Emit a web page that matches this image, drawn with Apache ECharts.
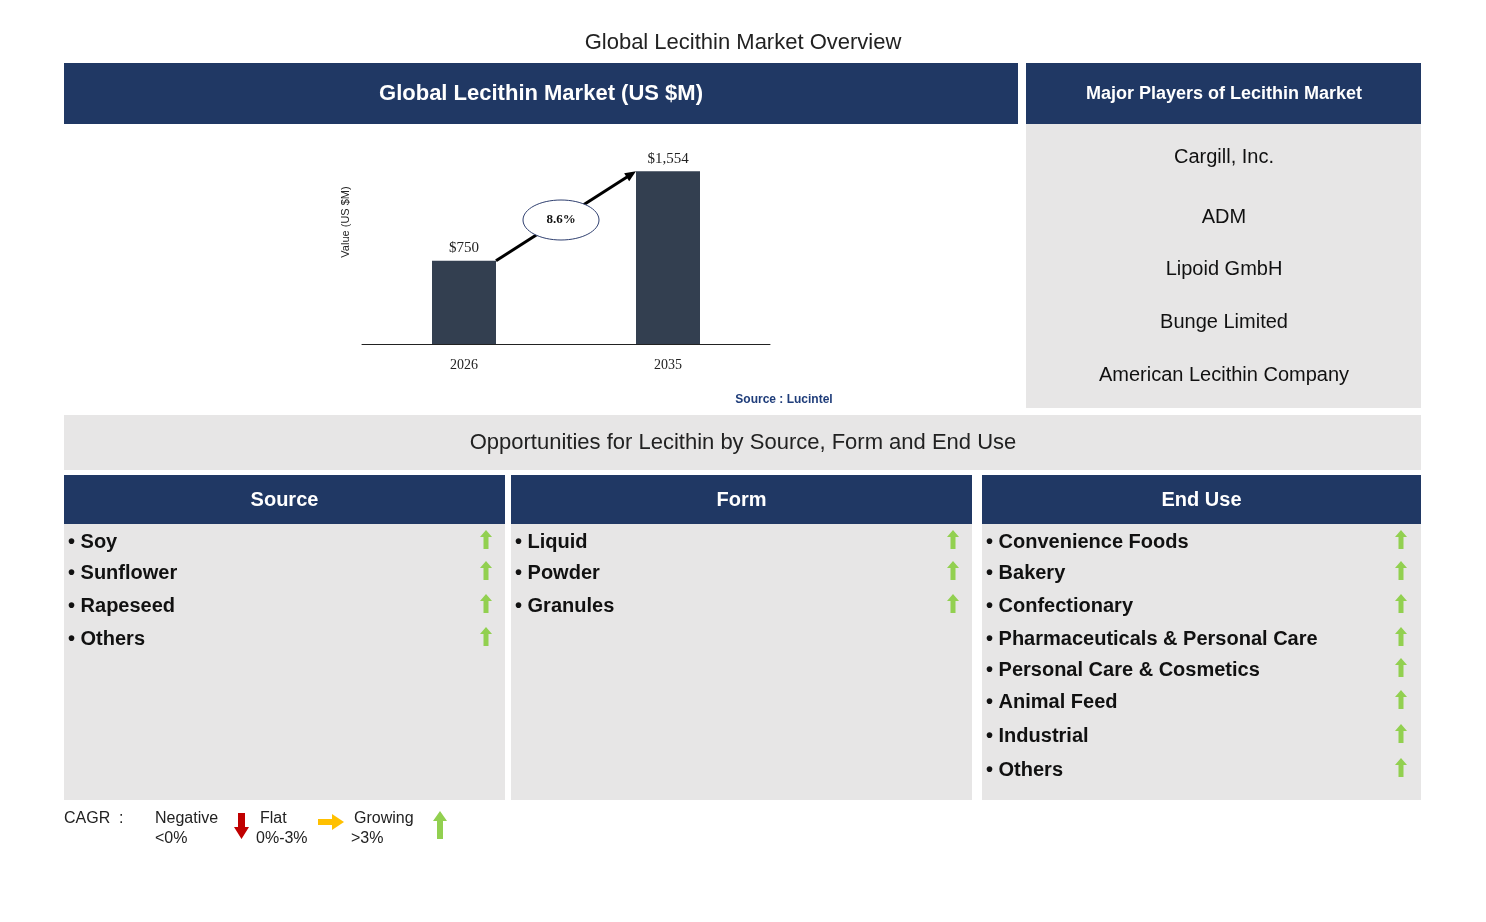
<!DOCTYPE html>
<html><head><meta charset="utf-8">
<script src="https://cdn.jsdelivr.net/npm/echarts@6/dist/echarts.min.js"></script>
<style>html,body{margin:0;padding:0;background:#fff}#c{width:1486px;height:922px}</style>
</head><body><div id="c"></div>
<script>
const years = ['2026','2035'];
const values = [750, 1554];
const cagr = '8.6%';
const players = ['Cargill, Inc.','ADM','Lipoid GmbH','Bunge Limited','American Lecithin Company'];
const sources = ['Soy','Sunflower','Rapeseed','Others'];
const forms = ['Liquid','Powder','Granules'];
const endUses = ['Convenience Foods','Bakery','Confectionary','Pharmaceuticals & Personal Care','Personal Care & Cosmetics','Animal Feed','Industrial','Others'];
const srcY = [542,573,606,639];
const endY = [542,573,606,639,670,702,736,770];

const NAVY = '#203864', GRAY = '#e7e6e6', GREEN = '#92d050', F = 'Liberation Sans, Arial, sans-serif';
const chart = echarts.init(document.getElementById('c'));
const g = [];
function rect(x,y,w,h,fill){g.push({type:'rect',shape:{x,y,width:w,height:h},style:{fill},z:0});}
function text(x,y,t,size,color,align,weight,font){g.push({type:'text',x,y,style:{text:t,fontSize:size,fill:color,align:align||'center',verticalAlign:'middle',fontWeight:weight||'normal',fontFamily:font||F},z:5});}
function up(x,y){g.push({type:'polygon',shape:{points:[[x,y-10],[x+6,y-3],[x+2.5,y-3],[x+2.5,y+9],[x-2.5,y+9],[x-2.5,y-3],[x-6,y-3]]},style:{fill:GREEN},z:5});}

text(743,43,'Global Lecithin Market Overview',22,'#222');
rect(64,63,954,61,NAVY); text(541,94,'Global Lecithin Market (US $M)',22,'#fff','center','bold');
rect(1026,63,395,61,NAVY); text(1224,94,'Major Players of Lecithin Market',18,'#fff','center','bold');
rect(1026,124,395,284,GRAY);
[157,217,269,322,375].forEach((y,i)=>text(1224,y,players[i],20,'#111'));
text(784,400,'Source : Lucintel',12,'#1f3d7a','center','bold');
rect(64,415,1357,55,GRAY); text(743,443,'Opportunities for Lecithin by Source, Form and End Use',22,'#222');
const cols=[[64,441,'Source',sources,srcY,486],[511,461,'Form',forms,srcY,953],[982,439,'End Use',endUses,endY,1401]];
cols.forEach(([x,w,h,items,ys,ax])=>{
  rect(x,475,w,49,NAVY); text(x+w/2,500,h,20,'#fff','center','bold');
  rect(x,524,w,276,GRAY);
  items.forEach((it,i)=>{text(x+4,ys[i],'• '+it,20,'#111','left','bold'); up(ax,ys[i]-2);});
});
text(64,819,'CAGR  :',16,'#222','left');
text(155,819,'Negative',16,'#222','left'); text(155,839,'<0%',16,'#222','left');
g.push({type:'polygon',shape:{points:[[238,813],[245,813],[245,827],[249,827],[241.5,839],[234,827],[238,827]]},style:{fill:'#c00000'},z:5});
text(260,819,'Flat',16,'#222','left'); text(256,839,'0%-3%',16,'#222','left');
g.push({type:'polygon',shape:{points:[[318,819],[332,819],[332,814],[344,822],[332,830],[332,825],[318,825]]},style:{fill:'#ffc000'},z:5});
text(354,819,'Growing',16,'#222','left'); text(351,839,'>3%',16,'#222','left');
g.push({type:'polygon',shape:{points:[[440,811],[447,821],[443,821],[443,839],[437,839],[437,821],[433,821]]},style:{fill:GREEN},z:5});
text(346,222,'Value (US $M)',11,'#222','center','normal');
g[g.length-1].rotation=Math.PI/2; 

chart.setOption({
  animation:false,
  grid:{left:362,top:144,width:408,height:200},
  xAxis:{type:'category',data:years,axisTick:{show:false},axisLine:{lineStyle:{color:'#222'}},
    axisLabel:{fontFamily:'Liberation Serif, serif',fontSize:14,color:'#222',margin:14}},
  yAxis:{type:'value',min:0,max:1800,show:false,splitLine:{show:false}},
  series:[{type:'bar',data:values,barWidth:64,itemStyle:{color:'#333f50'},
    label:{show:true,position:'top',formatter:p=>'$'+p.value.toLocaleString('en-US'),fontFamily:'Liberation Serif, serif',fontSize:15,color:'#222'}}],
  graphic:g
});
const p1=chart.convertToPixel({gridIndex:0},[0,values[0]]), p2=chart.convertToPixel({gridIndex:0},[1,values[1]]);
const a=[p1[0]+32,p1[1]], b=[p2[0]-32,p2[1]];
const ang=Math.atan2(b[1]-a[1],b[0]-a[0]);
const tip=[[b[0],b[1]],[b[0]-12*Math.cos(ang-0.4),b[1]-12*Math.sin(ang-0.4)],[b[0]-12*Math.cos(ang+0.4),b[1]-12*Math.sin(ang+0.4)]];
const mx=(a[0]+b[0])/2, my=(a[1]+b[1])/2;
g.push({type:'line',shape:{x1:a[0],y1:a[1],x2:b[0]-6*Math.cos(ang),y2:b[1]-6*Math.sin(ang)},style:{stroke:'#000',lineWidth:3},z:6});
g.push({type:'polygon',shape:{points:tip},style:{fill:'#000'},z:6});
g.push({type:'ellipse',shape:{cx:mx-5,cy:my+4,rx:38,ry:20},style:{fill:'#fff',stroke:'#2f3f6f',lineWidth:1},z:7});
g.push({type:'text',x:mx-5,y:my+4,style:{text:cagr,fontSize:13,fontWeight:'bold',fill:'#111',align:'center',verticalAlign:'middle',fontFamily:'Liberation Serif, serif'},z:8});
chart.setOption({graphic:g});
</script></body></html>
